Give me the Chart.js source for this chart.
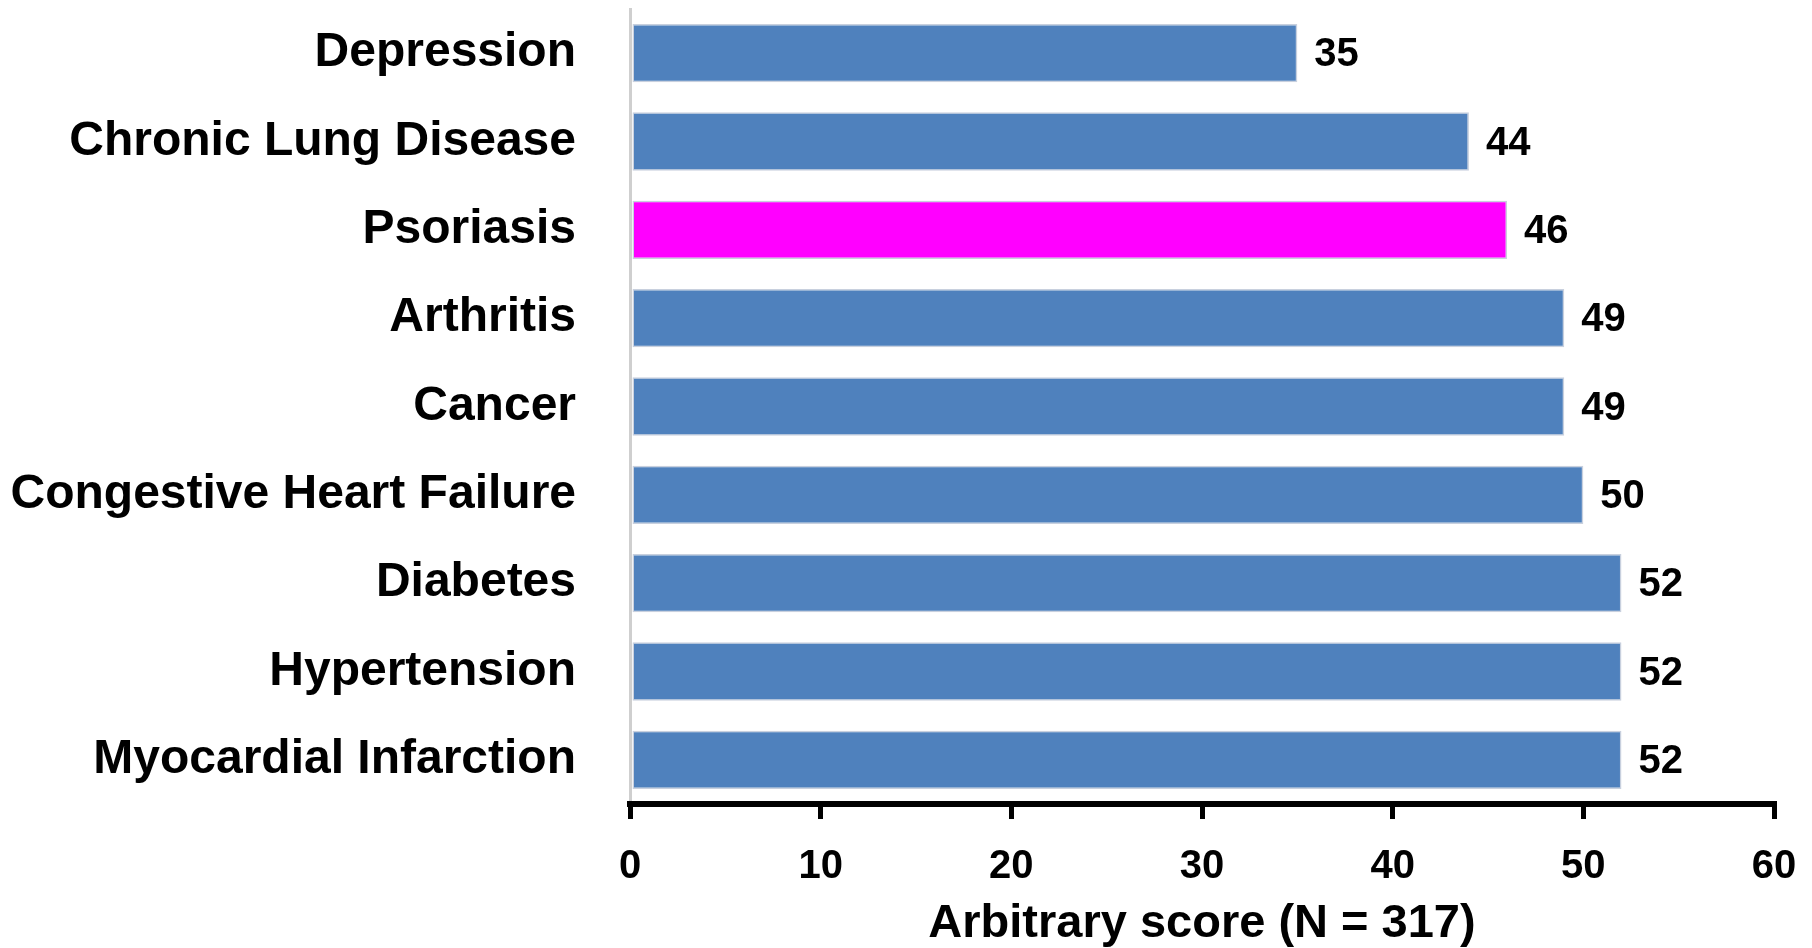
<!DOCTYPE html>
<html>
<head>
<meta charset="utf-8">
<script src="https://cdn.jsdelivr.net/npm/chart.js@4/dist/chart.umd.min.js"></script>
<style>
  html, body { margin: 0; padding: 0; background: #ffffff; }
  #wrap { width: 1812px; height: 948px; position: relative; }
</style>
</head>
<body>
<div id="wrap"><canvas id="c"></canvas></div>
<script>
const categories = [
  "Depression",
  "Chronic Lung Disease",
  "Psoriasis",
  "Arthritis",
  "Cancer",
  "Congestive Heart Failure",
  "Diabetes",
  "Hypertension",
  "Myocardial Infarction"
];
const scores = [35, 44, 46, 49, 49, 50, 52, 52, 52];
const highlightCategory = "Psoriasis";
const xTicks = [0, 10, 20, 30, 40, 50, 60];
const axisTitle = "Arbitrary score (N = 317)";

const FONT = '"Liberation Sans", Arial, Helvetica, sans-serif';
const BLUE = "#4F81BD";
const MAGENTA = "#FF00FF";

const valueLabels = {
  id: "valueLabels",
  afterDatasetsDraw(chart) {
    const ctx = chart.ctx;
    const meta = chart.getDatasetMeta(0);
    ctx.save();
    ctx.font = "bold 40px " + FONT;
    ctx.fillStyle = "#000000";
    ctx.textAlign = "left";
    ctx.textBaseline = "middle";
    meta.data.forEach((bar, i) => {
      ctx.fillText(String(chart.data.datasets[0].data[i]), bar.x + 17, bar.y + 2);
    });
    ctx.restore();
  }
};

new Chart(document.getElementById("c"), {
  type: "bar",
  data: {
    labels: categories,
    datasets: [{
      data: scores,
      backgroundColor: categories.map(c => c === highlightCategory ? MAGENTA : BLUE),
      borderColor: "#c8d0de",
      borderWidth: 1.5,
      borderSkipped: false,
      barPercentage: 0.66,
      categoryPercentage: 1.0
    }]
  },
  options: {
    indexAxis: "y",
    responsive: true,
    maintainAspectRatio: false,
    animation: false,
    layout: { padding: { top: 9, right: 38, bottom: 0, left: 0 } },
    plugins: {
      legend: { display: false },
      tooltip: { enabled: false }
    },
    scales: {
      y: {
        afterFit(scale) {
          scale.width = 630;
          scale.paddingTop = 0;
          scale.paddingBottom = 0;
        },
        grid: { display: false },
        border: { display: true, color: "#cfcfcf", width: 3 },
        ticks: {
          color: "#000000",
          padding: 46,
          font: { family: FONT, size: 48, weight: "bold" }
        }
      },
      x: {
        min: 0,
        max: 60,
        afterBuildTicks(scale) { scale.ticks = xTicks.map(v => ({ value: v })); },
        afterFit(scale) {
          scale.height = 144;
          scale.paddingLeft = 0;
          scale.paddingRight = 0;
        },
        grid: {
          display: true,
          drawOnChartArea: false,
          drawTicks: true,
          tickLength: 15,
          color: "#000000",
          lineWidth: 5
        },
        border: { display: true, color: "#000000", width: 6 },
        ticks: {
          color: "#000000",
          padding: 24,
          maxRotation: 0,
          font: { family: FONT, size: 40, weight: "bold" }
        },
        title: {
          display: true,
          text: axisTitle,
          color: "#000000",
          padding: { top: 8, bottom: 0 },
          font: { family: FONT, size: 47, weight: "bold", lineHeight: 1.0 }
        }
      }
    }
  },
  plugins: [valueLabels]
});
</script>
</body>
</html>
